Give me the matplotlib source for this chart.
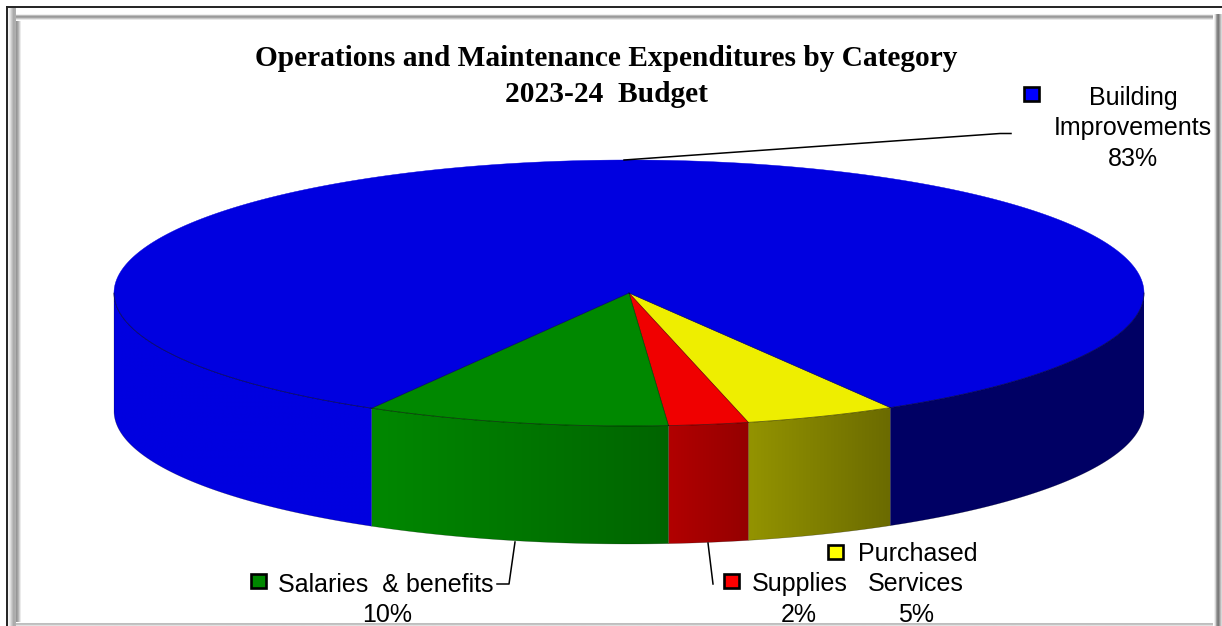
import numpy as np
import matplotlib
matplotlib.use('Agg')
import matplotlib.pyplot as plt
from matplotlib.patches import Polygon, Rectangle

# slices, clockwise from the purchased/building edge
categories = ['Purchased Services', 'Supplies', 'Salaries & benefits', 'Building Improvements']
shares = [4.75, 2.5, 9.55, 83.2]
colors = ['#eeee00', '#f00000', '#008800', '#0000e0']
pct_labels = ['5%', '2%', '10%', '83%']

title_lines = ['Operations and Maintenance Expenditures by Category', '2023-24  Budget']

# pie geometry in pixels
cx, cy = 629, 293
rx, ry = 515, 133
depth = 118
start = 59.5

W, H = 1222, 626
fig = plt.figure(figsize=(W / 100, H / 100), dpi=100)
ax = fig.add_axes([0, 0, 1, 1])
ax.set_xlim(0, W)
ax.set_ylim(H, 0)
ax.axis('off')


def rim(t):
    t = np.radians(t)
    return cx + rx * np.cos(t), cy + ry * np.sin(t)


def shade(x):
    # side walls go darker from left to right
    return np.interp(x, [371, 668, 748, 890], [1.0, 0.74, 0.62, 0.45])


def band(x0, x1, y0, y1, grays, vertical=True):
    g = np.array(grays, dtype=float)
    img = g[:, None] if vertical else g[None, :]
    ax.imshow(img, cmap='gray', vmin=0, vmax=255, extent=[x0, x1, y1, y0],
              aspect='auto', interpolation='bilinear', zorder=6)


edges = start + np.cumsum([0] + shares) * 3.6

# side walls
for i, c in enumerate(colors):
    a0, a1 = edges[i], edges[i + 1]
    for lo, hi in [(a0, min(a1, 180)), (max(a0, 360), a1)]:
        if hi <= lo:
            continue
        t = np.linspace(lo, hi, 200)
        x, y = rim(t)
        pts = np.r_[np.c_[x, y], np.c_[x[::-1], y[::-1] + depth]]
        xs = np.arange(int(x.min()) - 1, int(x.max()) + 2)
        rgb = np.array(matplotlib.colors.to_rgb(c))
        img = rgb[None, None, :] * shade(xs)[None, :, None]
        im = ax.imshow(img, extent=[xs[0], xs[-1], y.max() + depth + 1, y.min() - 1],
                       aspect='auto', interpolation='bilinear', zorder=2)
        poly = Polygon(pts, closed=True, fc='none', ec='none', transform=ax.transData)
        ax.add_patch(poly)
        im.set_clip_path(poly)
        ax.plot(pts[:, 0], pts[:, 1], color='black', lw=0.4, alpha=0.35, zorder=3)

# top face
for i, c in enumerate(colors):
    t = np.linspace(edges[i], edges[i + 1], 400)
    x, y = rim(t)
    pts = np.r_[[[cx, cy]], np.c_[x, y]]
    ax.add_patch(Polygon(pts, closed=True, fc=c, ec=c, lw=0.3, zorder=4))
    ax.plot([cx, x[0]], [cy, y[0]], color='black', lw=0.5, alpha=0.55, zorder=4.5)

# dark seam where the top meets the front wall
t = np.linspace(0, 180, 600)
x, y = rim(t)
ax.plot(x, y, color='black', lw=0.6, alpha=0.55, zorder=4.5)

ax.set_xlim(0, W)
ax.set_ylim(H, 0)

# title
for line, y in zip(title_lines, [59, 94]):
    ax.text(606, y, line, ha='center', va='center', fontsize=21.2, fontweight='bold',
            family='Liberation Serif', color='black', zorder=5)

# labels
sans = dict(family='Liberation Sans', fontsize=18, color='black', ha='center', va='center', zorder=5)
ax.text(1133, 98, 'Building', **sans)
ax.text(1133, 128, 'Improvements', **sans)
ax.text(1133, 159, pct_labels[3], **sans)
ax.text(386, 585, 'Salaries  & benefits', **sans)
ax.text(387, 615, pct_labels[2], **sans)
ax.text(800, 584, 'Supplies', **sans)
ax.text(799, 615, pct_labels[1], **sans)
ax.text(918, 554, 'Purchased', **sans)
ax.text(916, 584, 'Services', **sans)
ax.text(916, 615, pct_labels[0], **sans)

# legend keys
for (kx, ky), c in zip([(835, 552), (731, 581), (258, 581), (1031, 94)],
                       ['#ffff00', '#ff0000', '#008800', '#0000ff']):
    ax.add_patch(Rectangle((kx - 7.5, ky - 7), 15, 14, fc=c, ec='black', lw=1.9, zorder=5))

# leader lines
ax.plot([624, 1000, 1011], [160, 133.5, 133.5], color='black', lw=1.1, zorder=5)
ax.plot([515, 509, 497], [542, 584, 584], color='black', lw=1.1, zorder=5)
ax.plot([708, 713], [543, 584], color='black', lw=1.1, zorder=5)

# frame
ax.add_patch(Rectangle((0, 0), W, 7, fc='white', ec='none', zorder=6))
ax.add_patch(Rectangle((0, 0), 7, H, fc='white', ec='none', zorder=6))
band(8, 16, 8, H, [245, 225, 195, 170, 175], vertical=False)
band(16, 22, 14, H, [150, 175, 215, 255], vertical=False)
band(16, W - 9, 14, 21, [240, 150, 165, 215, 255])
band(W - 9, W, 14, H, [255, 225, 150, 115, 160, 215], vertical=False)
band(16, W - 9, H - 4, H, [255, 190, 195, 225])
ax.plot([7, W], [7, 7], color='#222222', lw=1.4, zorder=7)
ax.plot([7, 7], [7, H], color='#222222', lw=1.4, zorder=7)

ax.set_xlim(0, W)
ax.set_ylim(H, 0)
fig.savefig('out.png', dpi=100)
